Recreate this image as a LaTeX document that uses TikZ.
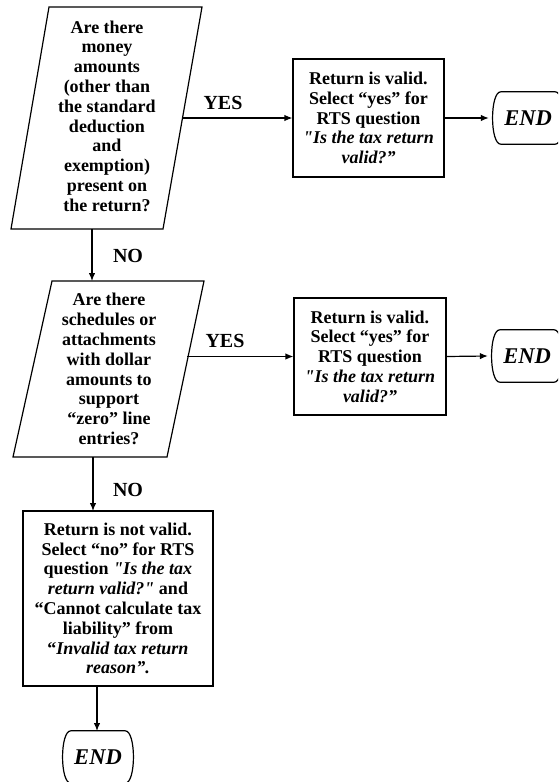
\documentclass[tikz,border=0pt]{standalone}
\usepackage{fontspec}
\setmainfont{Liberation Serif}[Ligatures=TeXOff]
\usetikzlibrary{arrows.meta,calc}
\newcommand\drawterm[1]{%
  \draw[shp] ([xshift=12pt]#1.north west) -- ([xshift=-12pt]#1.north east)
    .. controls ([xshift=-1pt]#1.north east) and ([xshift=-1pt]#1.south east) .. ([xshift=-12pt]#1.south east)
    -- ([xshift=12pt]#1.south west)
    .. controls ([xshift=1pt]#1.south west) and ([xshift=1pt]#1.north west) .. cycle;}
\begin{document}
\begin{tikzpicture}[x=1pt,y=-1pt,
  txt/.style={font=\fontsize{18}{19.8}\selectfont\bfseries, align=center, inner sep=0pt},
  box/.style={draw, line width=1.2pt, txt},
  lbl/.style={font=\fontsize{20}{22}\selectfont\bfseries, inner sep=0pt},
  term/.style={font=\fontsize{22.5}{24}\selectfont\bfseries\itshape, minimum width=78pt, minimum height=52pt, inner sep=0pt},
  arr/.style={-{Latex[length=8pt,width=6.5pt]}, line width=1.2pt},
  shp/.style={draw, line width=1.2pt}]
\useasboundingbox (0,0) rectangle (558,782);
\clip (0,0) rectangle (558,782);
\fill[white] (0,0) rectangle (558,782);

% decision 1 (parallelogram)
\coordinate (p1a) at (49,7);
\coordinate (p1b) at (202,7);
\coordinate (p1c) at (163,229);
\coordinate (p1d) at (11,229);
\draw[shp] (p1a) -- (p1b) -- (p1c) -- (p1d) -- cycle;
\node[txt] (q1) at (107,116) {Are there\\money\\amounts\\(other than\\the standard\\deduction\\and\\exemption)\\present on\\the return?};
\coordinate (p1r) at (183,118);
\coordinate (p1s) at (92,229);

% decision 2 (parallelogram)
\coordinate (p2a) at (52,281);
\coordinate (p2b) at (204,281);
\coordinate (p2c) at (167,457);
\coordinate (p2d) at (13,457);
\draw[shp] (p2a) -- (p2b) -- (p2c) -- (p2d) -- cycle;
\node[txt] (q2) at (109,369) {Are there\\schedules or\\attachments\\with dollar\\amounts to\\support\\“zero” line\\entries?};
\coordinate (p2n) at (92,281);
\coordinate (p2r) at (187,356.5);
\coordinate (p2s) at (93,457);

% process boxes
\node[box, minimum width=151pt, minimum height=118pt] (b1) at (368.5,118)
  {Return is valid.\\Select “yes” for\\RTS question\\\textit{"Is the tax return}\\\textit{valid?”}};
\node[box, minimum width=152pt, minimum height=117pt] (b2) at (370,356.5)
  {Return is valid.\\Select “yes” for\\RTS question\\\textit{"Is the tax return}\\\textit{valid?”}};
\node[box, minimum width=190pt, minimum height=175pt] (b3) at (118,598.5)
  {Return is not valid.\\Select “no” for RTS\\question \textit{"Is the tax}\\\textit{return valid?"} and\\“Cannot calculate tax\\liability” from\\“\textit{Invalid tax return}\\\textit{reason”.}};
\coordinate (b3n) at (93,511);
\coordinate (b3s) at (97,686);

% terminators
\node[term] (e1) at (528,118) {END};
\node[term] (e2) at (527,356) {END};
\node[term] (e3) at (98,757) {END};
\drawterm{e1}
\drawterm{e2}
\drawterm{e3}
\coordinate (e3n) at (97,731);

% connectors
\draw[arr] (p1r) -- (b1.west);
\draw[arr] (b1.east) -- (e1.west);
\draw[arr] (p1s) -- (p2n);
\draw[arr] (p2r) -- (b2.west);
\draw[arr] (b2.east) -- (e2.west);
\draw[arr] (p2s) -- (b3n);
\draw[arr] (b3s) -- (e3n);

% labels
\node[lbl] (y1) at (223,103) {YES};
\node[lbl] (n1) at (128,256) {NO};
\node[lbl] (y2) at (225,341) {YES};
\node[lbl] (n2) at (128,490) {NO};
\end{tikzpicture}
\end{document}
